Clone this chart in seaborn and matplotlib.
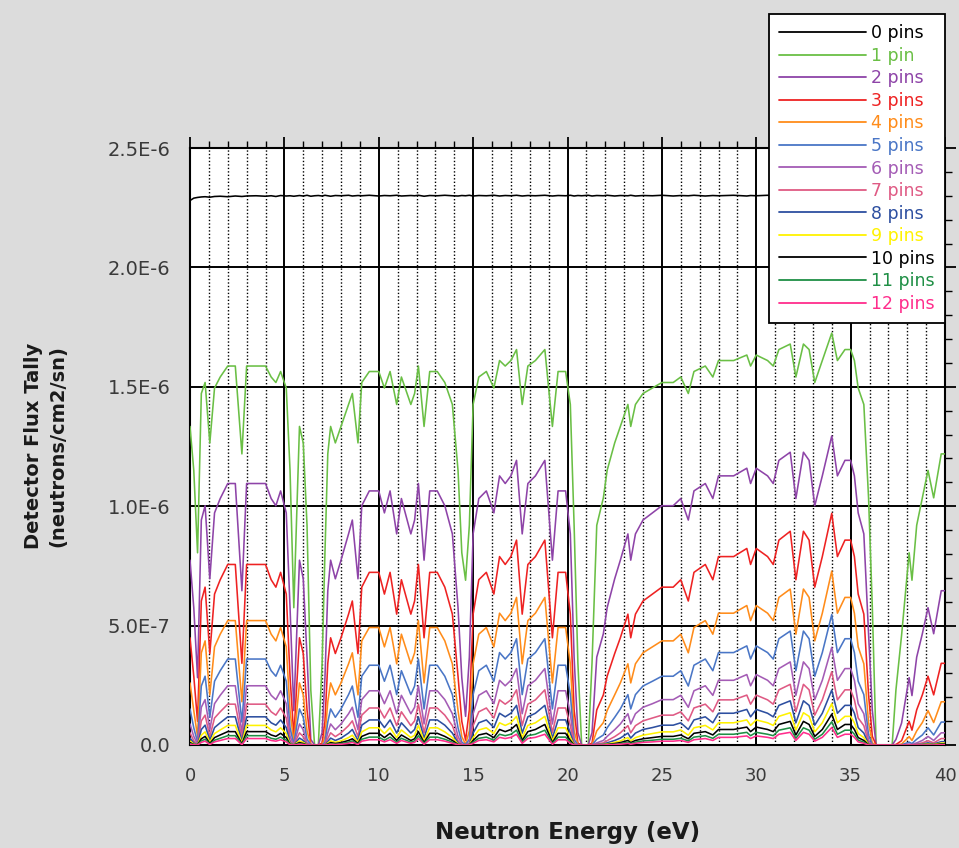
import numpy as np
import pandas as pd
import matplotlib
matplotlib.use("Agg")
import matplotlib.pyplot as plt
import seaborn as sns
from matplotlib.ticker import MultipleLocator
from matplotlib.lines import Line2D

# ---------------- data (flux in units of 1e-8 neutrons/cm2/sn) ----------------
energy = [0.0, 0.2, 0.4, 0.6, 0.8, 1.05, 1.3, 1.6, 2.0, 2.4,
          2.75, 3.0, 3.5, 4.0, 4.3, 4.55, 4.8, 5.1, 5.3, 5.5,
          5.8, 6.0, 6.2, 6.4, 6.6, 6.8, 7.0, 7.15, 7.3, 7.45,
          7.7, 8.0, 8.4, 8.6, 8.9, 9.1, 9.5, 10.0, 10.3, 10.6,
          10.95, 11.2, 11.7, 11.9, 12.1, 12.4, 12.7, 13.1, 13.5, 13.9,
          14.2, 14.4, 14.6, 14.8, 15.0, 15.3, 15.7, 16.1, 16.4, 16.7,
          17.0, 17.3, 17.6, 17.9, 18.3, 18.8, 19.2, 19.5, 19.9, 20.15,
          20.35, 20.55, 20.75, 21.1, 21.3, 21.55, 21.9, 22.1, 22.5, 22.8,
          23.2, 23.35, 23.6, 24.0, 24.5, 25.0, 25.6, 26.0, 26.4, 26.7,
          27.3, 27.7, 28.0, 28.8, 29.5, 29.7, 30.0, 30.6, 30.9, 31.2,
          31.8, 32.1, 32.5, 32.8, 33.1, 33.5, 34.0, 34.3, 34.7, 35.0,
          35.2, 35.4, 35.7, 35.95, 36.15, 36.35, 37.2, 37.4, 37.7, 38.1,
          38.25, 38.5, 38.8, 39.1, 39.4, 39.8, 40.0]

pins_0 = [228.0, 229.0, 229.3, 229.5, 229.6, 229.4, 229.7, 229.8, 229.6, 229.9,
          229.7, 229.9, 230.0, 229.8, 230.0, 229.7, 230.1, 229.9, 230.0, 229.8,
          230.1, 229.9, 230.2, 229.8, 230.0, 230.1, 229.9, 230.2, 230.0, 229.8,
          230.1, 230.0, 230.2, 229.9, 230.1, 230.0, 230.2, 229.9, 230.1, 230.0,
          230.2, 229.9, 230.1, 230.0, 230.2, 229.8, 230.1, 230.0, 230.2, 230.0,
          229.9, 230.1, 230.0, 230.2, 229.9, 230.1, 230.0, 230.2, 229.9, 230.1,
          230.0, 230.2, 229.9, 230.1, 230.0, 230.2, 229.9, 230.1, 230.0, 230.2,
          229.9, 230.1, 230.0, 230.2, 229.9, 230.1, 230.0, 230.2, 229.9, 230.1,
          230.0, 230.2, 229.9, 230.1, 230.0, 230.2, 229.9, 230.1, 230.0, 230.2,
          229.9, 230.1, 230.0, 230.2, 229.9, 230.1, 230.0, 230.2, 229.9, 230.1,
          230.0, 230.2, 229.9, 230.1, 230.0, 230.2, 229.9, 230.1, 230.0, 230.2,
          229.9, 230.1, 230.0, 230.2, 229.9, 230.1, 230.0, 230.2, 229.9, 230.1,
          230.0, 230.2, 229.9, 230.1, 230.0, 230.2, 230.0]

pins_1 = [133.4, 115.0, 80.5, 147.2, 151.8, 126.5, 149.5, 154.1, 158.7, 158.7,
          121.9, 158.7, 158.7, 158.7, 154.1, 151.8, 156.4, 149.5, 115.0, 57.5,
          133.4, 126.5, 92.0, 23.0, 0, 0, 34.5, 80.5, 121.9, 133.4,
          126.5, 133.4, 142.6, 147.2, 126.5, 151.8, 156.4, 156.4, 149.5, 156.4,
          142.6, 154.1, 142.6, 147.2, 158.7, 133.4, 156.4, 156.4, 151.8, 142.6,
          115.0, 80.5, 69.0, 92.0, 142.6, 154.1, 156.4, 149.5, 161.0, 158.7,
          161.0, 165.6, 142.6, 158.7, 161.0, 165.6, 133.4, 156.4, 156.4, 142.6,
          92.0, 34.5, 0, 0, 34.5, 92.0, 103.5, 115.0, 126.5, 133.4,
          142.6, 133.4, 142.6, 147.2, 149.5, 151.8, 151.8, 154.1, 147.2, 156.4,
          158.7, 154.1, 161.0, 161.0, 163.3, 158.7, 163.3, 161.0, 158.7, 165.6,
          167.9, 154.1, 167.9, 165.6, 151.8, 161.0, 172.5, 161.0, 165.6, 165.6,
          161.0, 149.5, 142.6, 103.5, 57.5, 0, 0, 23.0, 46.0, 80.5,
          69.0, 92.0, 103.5, 115.0, 103.5, 121.9, 121.9]

pins_2 = [77.4, 57.5, 28.2, 94.2, 100.2, 69.6, 97.2, 103.2, 109.5, 109.5,
          64.6, 109.5, 109.5, 109.5, 103.2, 100.2, 106.4, 97.2, 57.5, 14.4,
          77.4, 69.6, 36.8, 2.3, 0, 0, 5.2, 28.2, 64.6, 77.4,
          69.6, 77.4, 88.4, 94.2, 69.6, 100.2, 106.4, 106.4, 97.2, 106.4,
          88.4, 103.2, 88.4, 94.2, 109.5, 77.4, 106.4, 106.4, 100.2, 88.4,
          57.5, 28.2, 12.0, 36.8, 88.4, 103.2, 106.4, 97.2, 112.7, 109.5,
          112.7, 119.2, 88.4, 109.5, 112.7, 119.2, 77.4, 106.4, 106.4, 88.4,
          36.8, 5.2, 0, 0, 5.2, 36.8, 46.6, 57.5, 69.6, 77.4,
          88.4, 77.4, 88.4, 94.2, 97.2, 100.2, 100.2, 103.2, 94.2, 106.4,
          109.5, 103.2, 112.7, 112.7, 115.9, 109.5, 115.9, 112.7, 109.5, 119.2,
          122.6, 103.2, 122.6, 119.2, 100.2, 112.7, 129.4, 112.7, 119.2, 119.2,
          112.7, 97.2, 88.4, 46.6, 14.4, 0, 0, 2.3, 9.2, 28.2,
          20.7, 36.8, 46.6, 57.5, 46.6, 64.6, 64.6]

pins_3 = [44.9, 28.8, 9.9, 60.3, 66.1, 38.3, 63.2, 69.2, 75.6, 75.6,
          34.2, 75.6, 75.6, 75.6, 69.2, 66.1, 72.3, 63.2, 28.8, 3.6,
          44.9, 38.3, 14.7, 0.2, 0, 0, 0.8, 9.9, 34.2, 44.9,
          38.3, 44.9, 54.8, 60.3, 38.3, 66.1, 72.3, 72.3, 63.2, 72.3,
          54.8, 69.2, 54.8, 60.3, 75.6, 44.9, 72.3, 72.3, 66.1, 54.8,
          28.8, 9.9, 2.0, 14.7, 54.8, 69.2, 72.3, 63.2, 78.9, 75.6,
          78.9, 85.8, 54.8, 75.6, 78.9, 85.8, 44.9, 72.3, 72.3, 54.8,
          14.7, 0.8, 0, 0, 0.8, 14.7, 21.0, 28.8, 38.3, 44.9,
          54.8, 44.9, 54.8, 60.3, 63.2, 66.1, 66.1, 69.2, 60.3, 72.3,
          75.6, 69.2, 78.9, 78.9, 82.3, 75.6, 82.3, 78.9, 75.6, 85.8,
          89.5, 69.2, 89.5, 85.8, 66.1, 78.9, 97.0, 78.9, 85.8, 85.8,
          78.9, 63.2, 54.8, 21.0, 3.6, 0, 0, 0.2, 1.8, 9.9,
          6.2, 14.7, 21.0, 28.8, 21.0, 34.2, 34.2]

pins_4 = [26.0, 14.4, 3.5, 38.6, 43.6, 21.0, 41.1, 46.4, 52.1, 52.1,
          18.1, 52.1, 52.1, 52.1, 46.4, 43.6, 49.2, 41.1, 14.4, 0.9,
          26.0, 21.0, 5.9, 0, 0, 0, 0.1, 3.5, 18.1, 26.0,
          21.0, 26.0, 34.0, 38.6, 21.0, 43.6, 49.2, 49.2, 41.1, 49.2,
          34.0, 46.4, 34.0, 38.6, 52.1, 26.0, 49.2, 49.2, 43.6, 34.0,
          14.4, 3.5, 0.3, 5.9, 34.0, 46.4, 49.2, 41.1, 55.2, 52.1,
          55.2, 61.8, 34.0, 52.1, 55.2, 61.8, 26.0, 49.2, 49.2, 34.0,
          5.9, 0.1, 0, 0, 0.1, 5.9, 9.4, 14.4, 21.0, 26.0,
          34.0, 26.0, 34.0, 38.6, 41.1, 43.6, 43.6, 46.4, 38.6, 49.2,
          52.1, 46.4, 55.2, 55.2, 58.4, 52.1, 58.4, 55.2, 52.1, 61.8,
          65.3, 46.4, 65.3, 61.8, 43.6, 55.2, 72.8, 55.2, 61.8, 61.8,
          55.2, 41.1, 34.0, 9.4, 0.9, 0, 0, 0, 0.4, 3.5,
          1.9, 5.9, 9.4, 14.4, 9.4, 18.1, 18.1]

pins_5 = [15.1, 7.2, 1.2, 24.7, 28.8, 11.6, 26.7, 31.1, 36.0, 36.0,
          9.6, 36.0, 36.0, 36.0, 31.1, 28.8, 33.4, 26.7, 7.2, 0.2,
          15.1, 11.6, 2.4, 0, 0, 0, 0, 1.2, 9.6, 15.1,
          11.6, 15.1, 21.1, 24.7, 11.6, 28.8, 33.4, 33.4, 26.7, 33.4,
          21.1, 31.1, 21.1, 24.7, 36.0, 15.1, 33.4, 33.4, 28.8, 21.1,
          7.2, 1.2, 0.1, 2.4, 21.1, 31.1, 33.4, 26.7, 38.7, 36.0,
          38.7, 44.5, 21.1, 36.0, 38.7, 44.5, 15.1, 33.4, 33.4, 21.1,
          2.4, 0, 0, 0, 0, 2.4, 4.2, 7.2, 11.6, 15.1,
          21.1, 15.1, 21.1, 24.7, 26.7, 28.8, 28.8, 31.1, 24.7, 33.4,
          36.0, 31.1, 38.7, 38.7, 41.5, 36.0, 41.5, 38.7, 36.0, 44.5,
          47.7, 31.1, 47.7, 44.5, 28.8, 38.7, 54.6, 38.7, 44.5, 44.5,
          38.7, 26.7, 21.1, 4.2, 0.2, 0, 0, 0, 0.1, 1.2,
          0.6, 2.4, 4.2, 7.2, 4.2, 9.6, 9.6]

pins_6 = [8.8, 3.6, 0.4, 15.8, 19.0, 6.4, 17.3, 20.8, 24.8, 24.8,
          5.1, 24.8, 24.8, 24.8, 20.8, 19.0, 22.7, 17.3, 3.6, 0.1,
          8.8, 6.4, 0.9, 0, 0, 0, 0, 0.4, 5.1, 8.8,
          6.4, 8.8, 13.1, 15.8, 6.4, 19.0, 22.7, 22.7, 17.3, 22.7,
          13.1, 20.8, 13.1, 15.8, 24.8, 8.8, 22.7, 22.7, 19.0, 13.1,
          3.6, 0.4, 0, 0.9, 13.1, 20.8, 22.7, 17.3, 27.1, 24.8,
          27.1, 32.0, 13.1, 24.8, 27.1, 32.0, 8.8, 22.7, 22.7, 13.1,
          0.9, 0, 0, 0, 0, 0.9, 1.9, 3.6, 6.4, 8.8,
          13.1, 8.8, 13.1, 15.8, 17.3, 19.0, 19.0, 20.8, 15.8, 22.7,
          24.8, 20.8, 27.1, 27.1, 29.5, 24.8, 29.5, 27.1, 24.8, 32.0,
          34.8, 20.8, 34.8, 32.0, 19.0, 27.1, 40.9, 27.1, 32.0, 32.0,
          27.1, 17.3, 13.1, 1.9, 0.1, 0, 0, 0, 0, 0.4,
          0.2, 0.9, 1.9, 3.6, 1.9, 5.1, 5.1]

pins_7 = [5.1, 1.8, 0.1, 10.1, 12.5, 3.5, 11.3, 13.9, 17.1, 17.1,
          2.7, 17.1, 17.1, 17.1, 13.9, 12.5, 15.5, 11.3, 1.8, 0,
          5.1, 3.5, 0.4, 0, 0, 0, 0, 0.1, 2.7, 5.1,
          3.5, 5.1, 8.1, 10.1, 3.5, 12.5, 15.5, 15.5, 11.3, 15.5,
          8.1, 13.9, 8.1, 10.1, 17.1, 5.1, 15.5, 15.5, 12.5, 8.1,
          1.8, 0.1, 0, 0.4, 8.1, 13.9, 15.5, 11.3, 18.9, 17.1,
          18.9, 23.1, 8.1, 17.1, 18.9, 23.1, 5.1, 15.5, 15.5, 8.1,
          0.4, 0, 0, 0, 0, 0.4, 0.9, 1.8, 3.5, 5.1,
          8.1, 5.1, 8.1, 10.1, 11.3, 12.5, 12.5, 13.9, 10.1, 15.5,
          17.1, 13.9, 18.9, 18.9, 20.9, 17.1, 20.9, 18.9, 17.1, 23.1,
          25.4, 13.9, 25.4, 23.1, 12.5, 18.9, 30.7, 18.9, 23.1, 23.1,
          18.9, 11.3, 8.1, 0.9, 0, 0, 0, 0, 0, 0.1,
          0, 0.4, 0.9, 1.8, 0.9, 2.7, 2.7]

pins_8 = [2.9, 0.9, 0, 6.5, 8.3, 1.9, 7.3, 9.3, 11.8, 11.8,
          1.4, 11.8, 11.8, 11.8, 9.3, 8.3, 10.5, 7.3, 0.9, 0,
          2.9, 1.9, 0.2, 0, 0, 0, 0, 0, 1.4, 2.9,
          1.9, 2.9, 5.0, 6.5, 1.9, 8.3, 10.5, 10.5, 7.3, 10.5,
          5.0, 9.3, 5.0, 6.5, 11.8, 2.9, 10.5, 10.5, 8.3, 5.0,
          0.9, 0, 0, 0.2, 5.0, 9.3, 10.5, 7.3, 13.3, 11.8,
          13.3, 16.6, 5.0, 11.8, 13.3, 16.6, 2.9, 10.5, 10.5, 5.0,
          0.2, 0, 0, 0, 0, 0.2, 0.4, 0.9, 1.9, 2.9,
          5.0, 2.9, 5.0, 6.5, 7.3, 8.3, 8.3, 9.3, 6.5, 10.5,
          11.8, 9.3, 13.3, 13.3, 14.9, 11.8, 14.9, 13.3, 11.8, 16.6,
          18.5, 9.3, 18.5, 16.6, 8.3, 13.3, 23.0, 13.3, 16.6, 16.6,
          13.3, 7.3, 5.0, 0.4, 0, 0, 0, 0, 0, 0,
          0, 0.2, 0.4, 0.9, 0.4, 1.4, 1.4]

pins_9 = [1.7, 0.4, 0, 4.1, 5.5, 1.1, 4.8, 6.3, 8.2, 8.2,
          0.8, 8.2, 8.2, 8.2, 6.3, 5.5, 7.2, 4.8, 0.4, 0,
          1.7, 1.1, 0.1, 0, 0, 0, 0, 0, 0.8, 1.7,
          1.1, 1.7, 3.1, 4.1, 1.1, 5.5, 7.2, 7.2, 4.8, 7.2,
          3.1, 6.3, 3.1, 4.1, 8.2, 1.7, 7.2, 7.2, 5.5, 3.1,
          0.4, 0, 0, 0.1, 3.1, 6.3, 7.2, 4.8, 9.3, 8.2,
          9.3, 12.0, 3.1, 8.2, 9.3, 12.0, 1.7, 7.2, 7.2, 3.1,
          0.1, 0, 0, 0, 0, 0.1, 0.2, 0.4, 1.1, 1.7,
          3.1, 1.7, 3.1, 4.1, 4.8, 5.5, 5.5, 6.3, 4.1, 7.2,
          8.2, 6.3, 9.3, 9.3, 10.5, 8.2, 10.5, 9.3, 8.2, 12.0,
          13.5, 6.3, 13.5, 12.0, 5.5, 9.3, 17.3, 9.3, 12.0, 12.0,
          9.3, 4.8, 3.1, 0.2, 0, 0, 0, 0, 0, 0,
          0, 0.1, 0.2, 0.4, 0.2, 0.8, 0.8]

pins_10 = [1.0, 0.2, 0, 2.6, 3.6, 0.6, 3.1, 4.2, 5.6, 5.6,
           0.4, 5.6, 5.6, 5.6, 4.2, 3.6, 4.9, 3.1, 0.2, 0,
           1.0, 0.6, 0, 0, 0, 0, 0, 0, 0.4, 1.0,
           0.6, 1.0, 1.9, 2.6, 0.6, 3.6, 4.9, 4.9, 3.1, 4.9,
           1.9, 4.2, 1.9, 2.6, 5.6, 1.0, 4.9, 4.9, 3.6, 1.9,
           0.2, 0, 0, 0, 1.9, 4.2, 4.9, 3.1, 6.5, 5.6,
           6.5, 8.6, 1.9, 5.6, 6.5, 8.6, 1.0, 4.9, 4.9, 1.9,
           0, 0, 0, 0, 0, 0, 0.1, 0.2, 0.6, 1.0,
           1.9, 1.0, 1.9, 2.6, 3.1, 3.6, 3.6, 4.2, 2.6, 4.9,
           5.6, 4.2, 6.5, 6.5, 7.5, 5.6, 7.5, 6.5, 5.6, 8.6,
           9.9, 4.2, 9.9, 8.6, 3.6, 6.5, 12.9, 6.5, 8.6, 8.6,
           6.5, 3.1, 1.9, 0.1, 0, 0, 0, 0, 0, 0,
           0, 0, 0.1, 0.2, 0.1, 0.4, 0.4]

pins_11 = [0.6, 0.1, 0, 1.7, 2.4, 0.3, 2.0, 2.8, 3.9, 3.9,
           0.2, 3.9, 3.9, 3.9, 2.8, 2.4, 3.3, 2.0, 0.1, 0,
           0.6, 0.3, 0, 0, 0, 0, 0, 0, 0.2, 0.6,
           0.3, 0.6, 1.2, 1.7, 0.3, 2.4, 3.3, 3.3, 2.0, 3.3,
           1.2, 2.8, 1.2, 1.7, 3.9, 0.6, 3.3, 3.3, 2.4, 1.2,
           0.1, 0, 0, 0, 1.2, 2.8, 3.3, 2.0, 4.5, 3.9,
           4.5, 6.2, 1.2, 3.9, 4.5, 6.2, 0.6, 3.3, 3.3, 1.2,
           0, 0, 0, 0, 0, 0, 0, 0.1, 0.3, 0.6,
           1.2, 0.6, 1.2, 1.7, 2.0, 2.4, 2.4, 2.8, 1.7, 3.3,
           3.9, 2.8, 4.5, 4.5, 5.3, 3.9, 5.3, 4.5, 3.9, 6.2,
           7.2, 2.8, 7.2, 6.2, 2.4, 4.5, 9.7, 4.5, 6.2, 6.2,
           4.5, 2.0, 1.2, 0, 0, 0, 0, 0, 0, 0,
           0, 0, 0, 0.1, 0, 0.2, 0.2]

pins_12 = [0.3, 0.1, 0, 1.1, 1.6, 0.2, 1.3, 1.9, 2.7, 2.7,
           0.1, 2.7, 2.7, 2.7, 1.9, 1.6, 2.2, 1.3, 0.1, 0,
           0.3, 0.2, 0, 0, 0, 0, 0, 0, 0.1, 0.3,
           0.2, 0.3, 0.7, 1.1, 0.2, 1.6, 2.2, 2.2, 1.3, 2.2,
           0.7, 1.9, 0.7, 1.1, 2.7, 0.3, 2.2, 2.2, 1.6, 0.7,
           0.1, 0, 0, 0, 0.7, 1.9, 2.2, 1.3, 3.2, 2.7,
           3.2, 4.5, 0.7, 2.7, 3.2, 4.5, 0.3, 2.2, 2.2, 0.7,
           0, 0, 0, 0, 0, 0, 0, 0.1, 0.2, 0.3,
           0.7, 0.3, 0.7, 1.1, 1.3, 1.6, 1.6, 1.9, 1.1, 2.2,
           2.7, 1.9, 3.2, 3.2, 3.8, 2.7, 3.8, 3.2, 2.7, 4.5,
           5.3, 1.9, 5.3, 4.5, 1.6, 3.2, 7.3, 3.2, 4.5, 4.5,
           3.2, 1.3, 0.7, 0, 0, 0, 0, 0, 0, 0,
           0, 0, 0, 0, 0, 0.1, 0.1]

series_labels = ["0 pins", "1 pin", "2 pins", "3 pins", "4 pins", "5 pins", "6 pins",
                 "7 pins", "8 pins", "9 pins", "10 pins", "11 pins", "12 pins"]
series_values = [pins_0, pins_1, pins_2, pins_3, pins_4, pins_5, pins_6,
                 pins_7, pins_8, pins_9, pins_10, pins_11, pins_12]
series_colors = ["#000000", "#6abf45", "#8e44a8", "#ee2222", "#ff8c1a", "#4a76c6", "#a45cb5",
                 "#df5a84", "#2d4fa0", "#fff200", "#000000", "#1f8f45", "#ff2d8c"]

xticks = [0, 5, 10, 15, 20, 25, 30, 35, 40]
yticks = [0.0, 0.5e-6, 1.0e-6, 1.5e-6, 2.0e-6, 2.5e-6]
yticklabels = ["0.0", "5.0E-7", "1.0E-6", "1.5E-6", "2.0E-6", "2.5E-6"]

# ---------------- build long table ----------------
rows = []
for lab, vals in zip(series_labels, series_values):
    for e, v in zip(energy, vals):
        rows.append((lab, e, v * 1e-8))
df = pd.DataFrame(rows, columns=["series", "energy", "flux"])

# ---------------- figure ----------------
sns.set_style("white")
plt.rcParams["font.family"] = ["DejaVu Sans"]
bg = "#dcdcdc"
fig = plt.figure(figsize=(9.59, 8.48), dpi=100, facecolor=bg)
ax = fig.add_axes([190/959, 1-745/848, 755/959, 597/848])
ax.set_facecolor("white")

palette = dict(zip(series_labels, series_colors))
sns.lineplot(data=df, x="energy", y="flux", hue="series", hue_order=series_labels,
             palette=palette, estimator=None, sort=False, linewidth=1.15,
             legend=False, ax=ax, zorder=3)

ax.set_xlim(0, 40)
ax.set_ylim(0, 2.5e-6)
ax.set_xticks(xticks)
ax.set_xticklabels([str(t) for t in xticks])
ax.set_yticks(yticks)
ax.set_yticklabels(yticklabels)
ax.xaxis.set_minor_locator(MultipleLocator(1))
ax.yaxis.set_minor_locator(MultipleLocator(1e-7))
ax.set_xlabel("")
ax.set_ylabel("")

ax.grid(which="major", axis="both", color="black", linewidth=1.4, linestyle="-", zorder=1)
ax.grid(which="minor", axis="x", color="black", linewidth=1.0, linestyle=(0, (1, 1.5)), zorder=1)
ax.set_axisbelow(True)

for s in ax.spines.values():
    s.set_visible(True)
    s.set_color("black")
    s.set_linewidth(1.5)

ax.tick_params(which="both", direction="out", top=True, right=True, color="black")
ax.tick_params(which="major", length=8, width=1.3, labelcolor="#3a3a3a")
ax.tick_params(which="minor", length=5, width=1.0)
ax.tick_params(axis="x", which="major", pad=8, labelsize=13)
ax.tick_params(axis="y", which="major", pad=6, labelsize=14)

fig.text(567.5/959, 1-832/848, "Neutron Energy (eV)", ha="center", va="center",
         fontsize=16.5, fontweight="bold", color="#1a1a1a")
fig.text(46/959, 1-446/848, "Detector Flux Tally\n(neutrons/cm2/sn)", ha="center", va="center",
         rotation=90, fontsize=14, fontweight="bold", color="#1a1a1a",
         multialignment="center", linespacing=1.35)

handles = [Line2D([0], [0], color=c, lw=1.3) for c in series_colors]
leg = ax.legend(handles, series_labels, loc="upper right",
                bbox_to_anchor=(945/959, 1-14/848), bbox_transform=fig.transFigure,
                borderaxespad=0, frameon=True, fancybox=False, framealpha=1,
                facecolor="white", edgecolor="black", fontsize=12.5,
                handlelength=5.0, handletextpad=0.3, labelspacing=0.26,
                borderpad=0.6)
leg.get_frame().set_linewidth(1.3)
leg.set_zorder(10)
for txt, c in zip(leg.get_texts(), series_colors):
    txt.set_color(c)

fig.savefig("out.png", dpi=100, facecolor=bg)
